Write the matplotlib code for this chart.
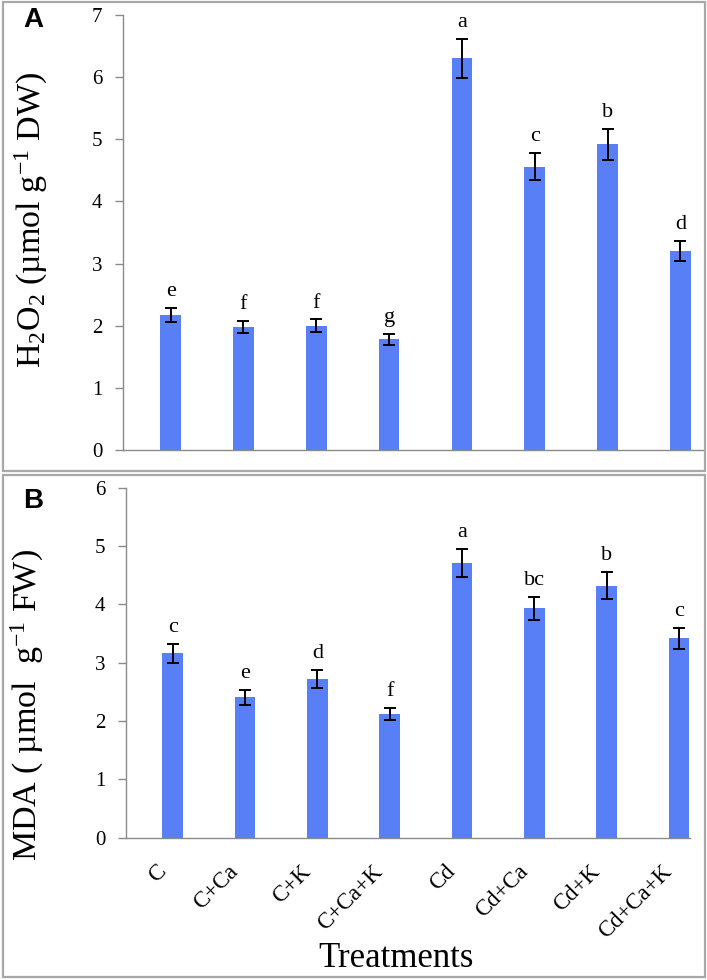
import numpy as np
import matplotlib
matplotlib.use("Agg")
import matplotlib.pyplot as plt
from matplotlib.patches import Rectangle
from matplotlib.transforms import ScaledTranslation

plt.rcParams['font.family'] = ['Liberation Serif', 'DejaVu Serif']
plt.rcParams['mathtext.fontset'] = 'custom'
plt.rcParams['mathtext.rm'] = 'Liberation Serif'
plt.rcParams['mathtext.it'] = 'Liberation Serif:italic'

# data
treatments = ["C", "C+Ca", "C+K", "C+Ca+K", "Cd", "Cd+Ca", "Cd+K", "Cd+Ca+K"]
h2o2 = [2.17, 1.98, 2.00, 1.78, 6.30, 4.56, 4.92, 3.20]
h2o2_err = [0.11, 0.10, 0.10, 0.09, 0.32, 0.22, 0.25, 0.16]
h2o2_sig = ["e", "f", "f", "g", "a", "c", "b", "d"]
mda = [3.16, 2.41, 2.72, 2.12, 4.71, 3.93, 4.32, 3.42]
mda_err = [0.16, 0.13, 0.15, 0.11, 0.24, 0.20, 0.23, 0.18]
mda_sig = ["c", "e", "d", "f", "a", "bc", "b", "c"]

W, H = 707, 980
fig = plt.figure(figsize=(W / 100, H / 100), dpi=100)
bar_color = "#587ff6"
spine_c = "#8a8a8a"

def fx(px):
    return px / W

def fy(py):
    return 1 - py / H

# panel frames
for (x0, y0, x1, y1) in [(3, 2, 705, 471), (3, 475, 705, 977)]:
    fig.patches.append(Rectangle((fx(x0), fy(y1)), fx(x1 - x0), (y1 - y0) / H,
                                 transform=fig.transFigure, fill=False,
                                 edgecolor="#a8a8a8", lw=1.6))

def make_panel(rect, vals, errs, sigs, ymax, xlim, show_x):
    ax = fig.add_axes(rect)
    x = np.arange(len(vals))
    ax.bar(x, vals, width=0.285, color=bar_color, zorder=2)
    ax.errorbar(x, vals, yerr=errs, fmt="none", ecolor="black", elinewidth=1.4,
                capsize=4.5, capthick=1.4, zorder=3)
    for xi, v, e, s in zip(x, vals, errs, sigs):
        ax.annotate(s, (xi, v + e), xytext=(0, 5), textcoords="offset points",
                    ha="center", va="bottom", fontsize=16)
    ax.set_ylim(0, ymax)
    ax.set_xlim(*xlim)
    ax.set_yticks(range(0, ymax + 1))
    for sp in ["top", "right"]:
        ax.spines[sp].set_visible(False)
    for sp in ["left", "bottom"]:
        ax.spines[sp].set_color(spine_c)
        ax.spines[sp].set_linewidth(1.0)
    ax.tick_params(axis="y", length=6, width=1, color=spine_c, labelsize=15, pad=9)
    ax.tick_params(axis="x", length=0)
    if show_x:
        ax.set_xticks(x)
        ax.set_xticklabels(treatments, rotation=45, ha="right", va="center",
                           rotation_mode="anchor", fontsize=16.5)
        ax.tick_params(axis="x", pad=22)
        shift = ScaledTranslation(-7 / 72, 0, fig.dpi_scale_trans)
        for lab in ax.get_xticklabels():
            lab.set_transform(lab.get_transform() + shift)
    else:
        ax.set_xticks([])
    return ax

axA = make_panel([fx(123), fy(450), fx(703 - 123), (450 - 15) / H],
                 h2o2, h2o2_err, h2o2_sig, 7, (-0.654, 7.31), False)
axB = make_panel([fx(126), fy(837.7), fx(689.6 - 126), (837.7 - 487.7) / H],
                 mda, mda_err, mda_sig, 6, (-0.646, 7.147), True)

fig.text(fx(31), fy(220), r"H$_2$O$_2$ (µmol g$^{-1}$ DW)", rotation=90,
         ha="center", va="center", fontsize=24.5)
fig.text(fx(27), fy(705), r"MDA ( µmol  g$^{-1}$ FW)", rotation=90,
         ha="center", va="center", fontsize=24.5)
fig.text(fx(396), fy(958), "Treatments", ha="center", va="center", fontsize=25)

fig.text(fx(33), fy(20), "A", family="Liberation Sans", weight="bold",
         fontsize=20, ha="center", va="center")
fig.text(fx(33), fy(501), "B", family="Liberation Sans", weight="bold",
         fontsize=20, ha="center", va="center")

fig.savefig("out.png", dpi=100)
